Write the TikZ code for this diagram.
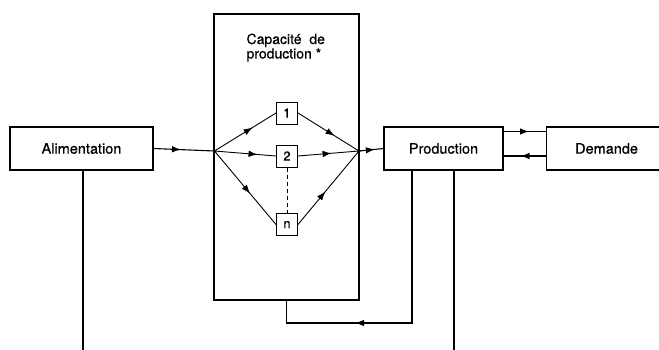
\documentclass[tikz,border=0pt]{standalone}
\usepackage{fontspec}
\setmainfont{TeX Gyre Heros}[FakeBold=0.5]
\usetikzlibrary{arrows.meta,decorations.markings,calc}
\begin{document}
\begin{tikzpicture}[x=1pt,y=-1pt,
  line width=1.1pt,
  blk/.style={draw,rectangle,minimum width=#1,minimum height=43pt,inner sep=0pt,font=\fontsize{14.5}{16}\selectfont},
  sm/.style={draw,rectangle,minimum width=21pt,minimum height=22pt,inner sep=0pt,font=\fontsize{13}{14}\selectfont,line width=1pt},
  tip/.style={-{Latex[length=9pt,width=6.5pt]}},
  midarrow/.style={postaction={decorate,decoration={markings,mark=at position #1 with {\arrow{Latex[length=9pt,width=6.5pt]}}}}},
  thin line/.style={line width=0.9pt}
]
\clip (0,0) rectangle (659,349);
\fill[white] (0,0) rectangle (659,349);

% main blocks
\node[blk=143pt] (ali) at (81.5,148.5) {Alimentation};
\node[blk=119pt] (prod) at (443.5,148.5) {Production};
\node[blk=140pt,anchor=west] (dem) at (546,148.5) {\hspace*{-20pt}Demande};

% capacity frame
\node[draw,rectangle,minimum width=145pt,minimum height=286pt,inner sep=0pt] (cap) at (286.5,157) {};
\node[anchor=north west,align=left,inner sep=0pt,font=\fontsize{14}{14.5}\selectfont] (captxt) at (246,33) {Capacité\ \ de\\production *};

% junctions
\coordinate (j1) at (214.5,151);
\coordinate (j2) at (359,151);
\fill (j1) circle (1.8pt);
\fill (j2) circle (1.8pt);

% small boxes
\node[sm] (b1) at (287,113) {1};
\node[sm] (b2) at (287,156) {2};
\node[sm] (bn) at (287,224.5) {n};
\draw[thin line,dashed,dash pattern=on 4pt off 3pt] (b2.south) -- (bn.north);

% inner flows
\draw[thin line,midarrow=0.62] (j1) -- (b1.west);
\draw[thin line,midarrow=0.7] (j1) -- (b2.west);
\draw[thin line,midarrow=0.58] (j1) -- (bn.west);
\draw[thin line,midarrow=0.6] (b1.east) -- (j2);
\draw[thin line,midarrow=0.55] (b2.east) -- (j2);
\draw[thin line,midarrow=0.45] (bn.east) -- (j2);

% main flows
\draw[midarrow=0.45] (ali.east) -- (j1);
\draw[midarrow=0.65] (j2) -- (prod.west);
\coordinate (pt) at (0,131.5);
\coordinate (pb) at (0,156);
\draw[midarrow=0.6] (prod.east |- pt) -- (dem.west |- pt);
\draw[midarrow=0.6] (dem.west |- pb) -- (prod.east |- pb);

% feedback and outgoing lines
\coordinate (f1) at (412,323);
\draw (prod.south -| f1) -- (f1) -- (f1 -| cap.south) -- (cap.south);
\draw[tip] (f1) -- ($(f1)+(-57,0)$);
\coordinate (f2) at (454,352);
\draw (prod.south -| f2) -- (f2);
\coordinate (f3) at (83,352);
\draw (ali.south -| f3) -- (f3);
\end{tikzpicture}
\end{document}
